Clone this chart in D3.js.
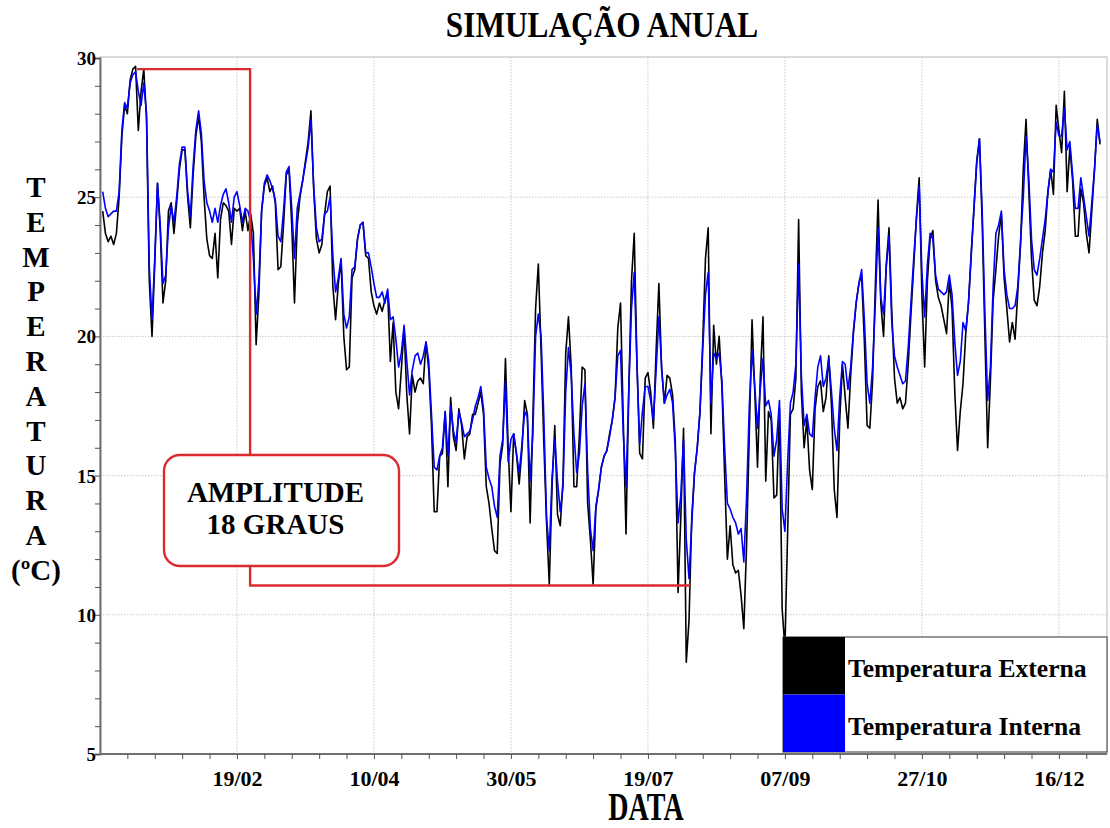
<!DOCTYPE html>
<html>
<head>
<meta charset="utf-8">
<script src="https://cdn.jsdelivr.net/npm/d3@7"></script>
<style>
  body { margin: 0; background: #fff; }
  svg text { font-family: "Liberation Serif", "Times New Roman", serif !important; font-weight: bold; fill: #000; }
</style>
</head>
<body>
<svg id="chart" width="1110" height="828"></svg>
<script>
// Daily mean temperatures (°C), day 1 = 01/01 ... day 365 = 31/12
const tempExterna = [
  24.5, 23.7, 23.4, 23.6, 23.3, 23.7, 25.0, 27.2, 28.3, 28.0,
  29.2, 29.6, 29.7, 27.4, 28.8, 29.6, 27.8, 22.0, 20.0, 22.6,
  25.5, 23.8, 21.2, 22.0, 24.5, 24.8, 23.7, 24.8, 26.0, 26.7,
  26.7, 25.0, 23.9, 25.8, 27.2, 27.9, 27.0, 25.0, 23.5, 22.9,
  22.8, 23.7, 22.1, 24.2, 24.8, 24.7, 24.5, 23.3, 24.6, 24.5,
  24.6, 23.8, 24.5, 23.8, 24.4, 23.7, 19.7, 21.5, 24.5, 25.4,
  25.7, 25.2, 25.4, 24.8, 22.4, 22.5, 24.0, 25.8, 26.0, 24.0,
  21.2, 24.0, 25.0, 25.6, 26.3, 27.0, 28.1, 25.3, 23.5, 23.0,
  23.3, 24.4, 25.2, 25.4, 21.8, 20.6, 21.9, 22.7, 20.0, 18.8,
  18.9, 22.1, 22.4, 23.5, 24.0, 24.1, 22.9, 22.8, 21.6, 21.1,
  20.8, 21.2, 20.9, 21.3, 21.6, 19.1, 20.5, 18.0, 17.4, 18.8,
  20.3, 17.9, 16.5, 18.6, 18.0, 18.4, 18.5, 18.3, 19.8, 18.8,
  16.8, 13.7, 13.7, 15.7, 15.8, 17.3, 14.6, 17.8, 16.4, 15.9,
  17.4, 16.8, 15.6, 16.4, 16.5, 17.2, 17.2, 17.6, 18.0, 17.2,
  14.6, 14.0, 13.1, 12.3, 12.2, 15.4, 16.1, 19.2, 16.0, 13.7,
  16.5, 15.8, 14.7, 15.9, 17.7, 17.2, 13.3, 17.0, 21.0, 22.6,
  19.5, 16.2, 13.3, 11.1, 14.6, 16.8, 13.6, 13.2, 14.8, 19.4,
  20.7, 18.9, 14.6, 14.6, 16.5, 18.9, 18.8, 14.0, 12.7, 11.1,
  13.8, 14.5, 15.3, 15.7, 15.9, 16.5, 17.0, 17.8, 20.3, 21.2,
  17.0, 12.9, 18.0, 22.0, 23.7, 19.0, 15.8, 15.6, 18.5, 18.7,
  18.0, 16.7, 19.5, 21.9, 18.8, 17.6, 18.6, 18.5, 17.9, 16.2,
  10.8, 13.5, 16.7, 8.3, 9.8, 13.5, 15.1, 16.0, 17.3, 19.8,
  22.8, 23.9, 16.5, 20.4, 19.0, 20.0, 18.2, 15.0, 12.0, 13.2,
  11.8, 11.5, 11.6, 10.7, 9.5, 12.5, 16.5, 20.6, 18.0, 15.3,
  18.5, 20.7, 14.8, 17.3, 17.0, 14.2, 14.3, 17.4, 10.2, 8.8,
  13.0, 17.2, 17.4, 18.5, 24.2, 18.0, 16.0, 17.0, 15.2, 14.5,
  17.4, 18.2, 18.4, 17.3, 17.8, 19.3, 17.5, 14.5, 13.5, 17.0,
  19.0, 17.8, 16.7, 18.6, 20.1, 21.2, 21.9, 22.2, 19.8, 16.8,
  16.7, 18.4, 21.8, 24.9, 21.2, 20.0, 22.6, 23.9, 20.9, 18.5,
  17.6, 17.8, 17.4, 17.6, 19.0, 20.8, 22.5, 24.3, 25.7, 21.5,
  18.9, 22.0, 23.5, 23.8, 22.0, 21.4, 21.1, 20.6, 20.1, 22.0,
  21.0, 18.0, 15.9, 17.3, 18.3, 20.1, 21.2, 23.0, 24.6, 26.3,
  27.1, 24.1, 20.0, 16.0, 18.4, 21.3, 22.4, 23.6, 24.4, 22.1,
  21.0, 19.8, 20.5, 19.9, 21.6, 23.3, 26.0, 27.8, 25.3, 22.8,
  21.3, 21.1, 21.8, 23.0, 23.8, 25.2, 26.0, 25.1, 28.3, 27.4,
  26.6, 28.8, 25.2, 26.8, 25.6, 23.6, 23.6, 25.3, 24.8, 23.7,
  23.0, 24.5, 26.0, 27.8, 26.9
];

const tempInterna = [
  25.2, 24.6, 24.3, 24.4, 24.5, 24.5, 25.2, 27.4, 28.4, 28.2,
  29.1, 29.4, 29.5, 28.8, 28.3, 29.1, 28.0, 22.5, 20.6, 22.8,
  25.5, 24.0, 21.9, 22.2, 23.9, 24.7, 24.1, 25.0, 26.2, 26.8,
  26.8, 25.2, 24.3, 26.1, 27.4, 28.1, 27.3, 25.6, 24.8, 24.5,
  24.1, 24.6, 24.1, 24.7, 25.1, 25.3, 24.8, 24.1, 25.0, 25.2,
  24.7, 24.1, 24.6, 24.5, 24.1, 22.8, 20.8, 22.0, 24.5, 25.5,
  25.8, 25.6, 25.3, 24.9, 23.6, 23.4, 24.5, 25.9, 26.1, 24.6,
  22.8, 24.6, 25.1, 25.6, 26.2, 26.8, 27.8, 25.4, 23.9, 23.4,
  23.5, 24.4, 24.5, 25.0, 22.9, 21.6, 22.1, 22.8, 20.8, 20.3,
  20.7, 22.4, 22.5, 23.5, 24.0, 24.1, 23.0, 23.0, 22.5, 21.9,
  21.4, 21.4, 21.6, 21.2, 21.7, 20.6, 20.7, 19.9, 18.9, 19.4,
  20.4, 19.1, 17.9, 18.8, 19.3, 19.4, 19.0, 19.3, 19.8, 19.1,
  17.2, 15.3, 15.2, 15.7, 16.0, 17.3, 15.7, 17.5, 16.6, 16.2,
  17.3, 16.9, 16.4, 16.5, 16.6, 17.0, 17.5, 17.8, 18.2, 17.4,
  15.3, 14.9, 14.6, 13.9, 13.5, 15.7, 16.3, 18.4, 15.5, 16.3,
  16.5, 15.8, 15.1, 16.1, 17.3, 17.1, 14.8, 16.5, 20.0, 20.8,
  20.0, 17.1, 13.5, 12.3, 14.9, 16.3, 14.8, 13.7, 14.6, 18.0,
  19.6, 18.6, 16.5, 15.1, 15.8, 17.5, 18.3, 15.2, 13.1, 12.3,
  13.9, 14.5, 15.3, 15.7, 15.9, 16.4, 17.0, 17.8, 19.3, 19.5,
  16.5, 14.6, 18.0, 21.0, 22.3, 19.0, 16.1, 17.3, 18.2, 18.2,
  17.7, 17.0, 18.8, 20.7, 18.9, 17.6, 17.9, 18.1, 17.6, 15.9,
  13.3, 14.3, 16.3, 12.7, 11.3, 13.3, 15.1, 16.0, 17.3, 19.5,
  21.5, 22.3, 17.6, 19.4, 19.2, 19.4, 18.4, 16.0, 14.0, 13.8,
  13.5, 13.3, 12.9, 13.1, 11.9, 14.2, 17.5, 19.5, 18.2, 16.7,
  18.1, 19.2, 17.5, 17.7, 17.2, 15.7, 16.3, 17.7, 13.8, 13.0,
  15.5, 17.6, 18.0, 19.0, 22.6, 18.6, 16.8, 17.2, 16.5, 16.4,
  17.8, 18.9, 19.3, 18.2, 18.5, 19.2, 18.0, 16.7, 15.9, 17.8,
  19.1, 19.0, 18.1, 18.9, 20.2, 21.2, 21.9, 22.4, 20.6, 18.3,
  17.6, 18.9, 21.2, 23.9, 21.4, 20.8, 22.5, 23.6, 20.5, 19.3,
  18.9, 18.6, 18.3, 18.4, 19.6, 21.2, 22.8, 24.2, 25.4, 22.3,
  20.7, 22.6, 23.7, 23.5, 22.2, 21.7, 21.6, 21.5, 21.6, 22.2,
  21.5, 19.8, 18.6, 19.1, 20.5, 20.2, 21.2, 22.9, 24.6, 26.2,
  27.1, 24.5, 20.8, 17.7, 18.9, 21.8, 23.7, 24.0, 24.5, 22.4,
  21.5, 21.0, 21.0, 21.1, 21.8, 23.4, 25.0, 27.2, 25.7, 23.5,
  22.4, 22.2, 22.8, 23.5, 24.2, 25.2, 26.0, 25.9, 27.7, 27.2,
  27.2, 28.2, 26.7, 27.0, 25.8, 24.6, 24.6, 25.7, 25.0, 24.3,
  23.6, 24.8, 26.0, 27.6, 27.0
];

// Axis ticks: day-of-year positions and their date labels
const tickDays = [50, 100, 150, 200, 250, 300, 350];
const tickLabels = ["19/02", "10/04", "30/05", "19/07", "07/09", "27/10", "16/12"];
const yTickValues = [5, 10, 15, 20, 25, 30];

// Legend entries
const seriesNames = ["Temperatura Externa", "Temperatura Interna"];
const seriesColors = ["#000000", "#0000ff"];

// Amplitude marker: maximum and minimum temperatures and the days they span
const amplitudeTemps = [29.6, 11.05];
const amplitudeDays = [13.5, 54.8, 215.3];
const amplitudeText = ["AMPLITUDE", "18 GRAUS"];

const yAxisTitle = ["T", "E", "M", "P", "E", "R", "A", "T", "U", "R", "A", "(ºC)"];

// ---------------------------------------------------------------
const SERIF = '"Liberation Serif", "Times New Roman", serif';
const svg = d3.select("#chart");
const plot = { left: 100, right: 1107, top: 57, bottom: 754 };

const x = d3.scaleLinear().domain([1, 365]).range([102.7, 1100]);
const y = d3.scaleLinear().domain([5, 30]).range([754, 58]);

// plot frame
svg.append("rect")
  .attr("x", plot.left).attr("y", plot.top)
  .attr("width", plot.right - plot.left).attr("height", plot.bottom - plot.top)
  .attr("fill", "#fff").attr("stroke", "#c4c4c4").attr("stroke-width", 1.2);

// dotted grid
const grid = svg.append("g").attr("stroke", "#c8c8c8").attr("stroke-width", 1).attr("stroke-dasharray", "1.5,1.5");
grid.selectAll("line.v").data(tickDays).join("line")
  .attr("x1", d => x(d)).attr("x2", d => x(d))
  .attr("y1", plot.top).attr("y2", plot.bottom);
grid.selectAll("line.h").data(yTickValues.filter(v => v > 5 && v < 30)).join("line")
  .attr("x1", plot.left).attr("x2", plot.right)
  .attr("y1", d => y(d)).attr("y2", d => y(d));

// axes
const yAxis = d3.axisLeft(y)
  .tickValues(d3.range(5, 31, 1))
  .tickSize(5)
  .tickFormat(d => (yTickValues.includes(d) ? d : ""));
const gy = svg.append("g").attr("transform", `translate(${plot.left},0)`).call(yAxis);
gy.attr("font-family", SERIF);
gy.select(".domain").attr("stroke", "#707070").attr("stroke-width", 2);
gy.selectAll(".tick line").attr("stroke", "#505050").attr("stroke-width", 1);
gy.selectAll(".tick text").attr("font-size", 19).attr("x", -4).attr("dy", "0.34em")
  .style("font-family", SERIF);

const labelByDay = new Map(tickDays.map((d, i) => [d, tickLabels[i]]));
const xAxis = d3.axisBottom(x)
  .tickValues(d3.range(10, 361, 10))
  .tickSize(5)
  .tickSizeOuter(0)
  .tickFormat(d => labelByDay.get(d) || "");
const gx = svg.append("g").attr("transform", `translate(0,${plot.bottom})`).call(xAxis);
gx.attr("font-family", SERIF);
gx.select(".domain").attr("stroke", "#707070").attr("stroke-width", 2)
  .attr("d", `M${plot.left},0H${plot.right}`);
gx.selectAll(".tick line").attr("stroke", "#505050").attr("stroke-width", 1);
gx.selectAll(".tick text")
  .attr("font-size", 22).attr("y", 32).attr("dy", 0)
  .style("font-family", SERIF);

// series lines: external first, internal drawn over it
const line = d3.line().x((d, i) => x(i + 1)).y(d => y(d));
[tempExterna, tempInterna].forEach((series, k) => {
  svg.append("path")
    .datum(series)
    .attr("fill", "none")
    .attr("stroke", seriesColors[k])
    .attr("stroke-width", 1.6)
    .attr("stroke-linejoin", "round")
    .attr("d", line);
});

// amplitude bracket
const red = "#dc2b2e";
const boxTop = 455, boxBottom = 566, boxLeft = 164, boxRight = 399;
const bx = x(amplitudeDays[1]);
const ann = svg.append("g").attr("fill", "none").attr("stroke", red).attr("stroke-width", 2.4);
ann.append("path").attr("d",
  `M${x(amplitudeDays[0])},${y(amplitudeTemps[0])}H${bx}V${boxTop}`);
ann.append("path").attr("d",
  `M${bx},${boxBottom}V${y(amplitudeTemps[1])}H${x(amplitudeDays[2])}`);
ann.append("rect")
  .attr("x", boxLeft).attr("y", boxTop)
  .attr("width", boxRight - boxLeft).attr("height", boxBottom - boxTop)
  .attr("rx", 16).attr("fill", "#fff");
svg.selectAll("text.amp").data(amplitudeText).join("text")
  .attr("class", "amp")
  .attr("x", (boxLeft + boxRight) / 2 - 6)
  .attr("y", (d, i) => 502 + i * 32)
  .attr("text-anchor", "middle")
  .attr("font-size", 29)
  .style("font-family", SERIF)
  .text(d => d);

// legend
const lg = svg.append("g");
const lgX = 783, lgY = 637, sw = 62, rowH = 57.5;
lg.append("rect").attr("x", lgX).attr("y", lgY)
  .attr("width", plot.right - lgX).attr("height", plot.bottom - 2 - lgY)
  .attr("fill", "#fff").attr("stroke", "#505050").attr("stroke-width", 1.2);
seriesNames.forEach((name, i) => {
  lg.append("rect").attr("x", lgX).attr("y", lgY + i * rowH)
    .attr("width", sw).attr("height", rowH).attr("fill", seriesColors[i]);
  lg.append("text").attr("x", lgX + sw + 3).attr("y", lgY + i * rowH + 40)
    .attr("font-size", 25.6).style("font-family", SERIF).text(name);
});

// titles
svg.append("text")
  .attr("transform", "translate(602,37) scale(0.87,1)")
  .attr("text-anchor", "middle").attr("font-size", 36)
  .style("font-family", SERIF)
  .text("SIMULAÇÃO ANUAL");
svg.append("text")
  .attr("transform", "translate(646,820) scale(0.72,1)")
  .attr("text-anchor", "middle").attr("font-size", 39)
  .style("font-family", SERIF)
  .text("DATA");
svg.selectAll("text.ytitle").data(yAxisTitle).join("text")
  .attr("class", "ytitle")
  .attr("x", 36)
  .attr("y", (d, i) => 197 + i * 34.8)
  .attr("text-anchor", "middle")
  .attr("font-size", 29)
  .style("font-family", SERIF)
  .text(d => d);
</script>
</body>
</html>
